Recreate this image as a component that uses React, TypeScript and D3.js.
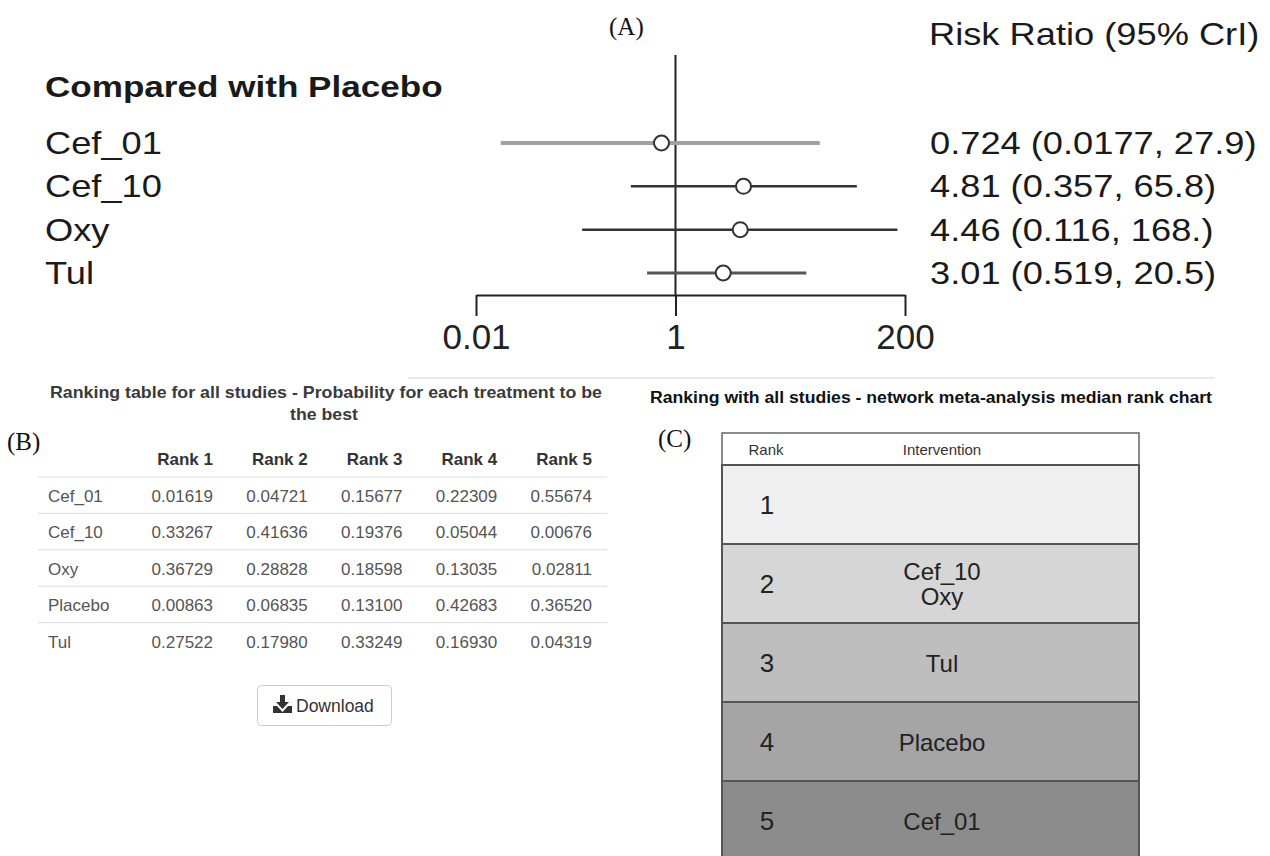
import { useEffect, useRef } from 'react';
import * as d3 from 'd3';

// (A) forest plot, risk ratio vs placebo
const treatments = ['Cef_01', 'Cef_10', 'Oxy', 'Tul'];
const rrMedian = [0.724, 4.81, 4.46, 3.01];
const rrLower = [0.0177, 0.357, 0.116, 0.519];
const rrUpper = [27.9, 65.8, 168, 20.5];
const rrLabels = ['0.724 (0.0177, 27.9)', '4.81 (0.357, 65.8)', '4.46 (0.116, 168.)', '3.01 (0.519, 20.5)'];
const axisTicks = [0.01, 1, 200];

// (B) ranking probability table
const rankHeaders = ['Rank 1', 'Rank 2', 'Rank 3', 'Rank 4', 'Rank 5'];
const tableRows = ['Cef_01', 'Cef_10', 'Oxy', 'Placebo', 'Tul'];
const probCef01 = ['0.01619', '0.04721', '0.15677', '0.22309', '0.55674'];
const probCef10 = ['0.33267', '0.41636', '0.19376', '0.05044', '0.00676'];
const probOxy = ['0.36729', '0.28828', '0.18598', '0.13035', '0.02811'];
const probPlacebo = ['0.00863', '0.06835', '0.13100', '0.42683', '0.36520'];
const probTul = ['0.27522', '0.17980', '0.33249', '0.16930', '0.04319'];

// (C) median rank chart
const medianRanks = ['1', '2', '3', '4', '5'];
const rankInterventions = [[], ['Cef_10', 'Oxy'], ['Tul'], ['Placebo'], ['Cef_01']];

const sans = 'Liberation Sans, Arial, Helvetica, sans-serif';
const serif = 'Liberation Serif, Times New Roman, serif';
const stretch = 1.17; // top panel text is a bit wide

function App() {
  const axisRef = useRef(null);

  const x = d3.scaleLog().domain([0.01, 200]).range([476, 905]);
  const y = d3.scalePoint().domain(treatments).range([143, 273]);

  const col = d3.scalePoint().domain(rankHeaders).range([213, 592]);
  const row = d3.scaleBand().domain(tableRows).range([477, 659]);
  const probs = [probCef01, probCef10, probOxy, probPlacebo, probTul];

  const rankY = d3.scaleBand().domain(medianRanks).range([465, 860]);
  const shade = d3.scaleLinear().domain([0, 4]).range(['#efefef', '#8c8c8c']);

  useEffect(() => {
    const g = d3.select(axisRef.current);
    g.selectAll('*').remove();
    g.call(
      d3.axisBottom(x)
        .tickValues(axisTicks)
        .tickSize(21)
        .tickSizeOuter(0)
        .tickPadding(8)
        .tickFormat(d => String(d))
    );
    g.select('.domain').attr('stroke', '#222').attr('stroke-width', 2);
    g.selectAll('.tick line').attr('stroke', '#222').attr('stroke-width', 2);
    g.selectAll('.tick text')
      .attr('fill', '#222')
      .style('font-size', '35px')
      .style('font-family', sans);
  }, []);

  const ciColor = t => (t === 'Cef_01' ? '#a0a0a0' : t === 'Tul' ? '#555' : '#333');
  const ciWidth = t => (t === 'Cef_01' ? 4 : t === 'Tul' ? 3 : 2.5);

  return (
    <svg width={1270} height={856} style={{ position: 'absolute', left: 0, top: 0, background: '#fff' }}>
      {/* ---------- (A) ---------- */}
      <text x={609} y={35} fontFamily={serif} fontSize={25} fill="#111">(A)</text>
      <text transform={`translate(929,45) scale(${stretch},1)`} fontFamily={sans} fontSize={31} fill="#1a1a1a">
        Risk Ratio (95% CrI)
      </text>
      <text transform={`translate(45,97) scale(${stretch},1)`} fontFamily={sans} fontSize={30} fontWeight="bold" fill="#1a1a1a">
        Compared with Placebo
      </text>

      <line x1={x(1)} x2={x(1)} y1={55} y2={295} stroke="#222" strokeWidth={2} />

      {treatments.map((t, i) => (
        <g key={t}>
          <text transform={`translate(45,${y(t) + 11}) scale(${stretch},1)`} fontFamily={sans} fontSize={31} fill="#1a1a1a">
            {t}
          </text>
          <line x1={x(rrLower[i])} x2={x(rrUpper[i])} y1={y(t)} y2={y(t)} stroke={ciColor(t)} strokeWidth={ciWidth(t)} />
          <circle cx={x(rrMedian[i])} cy={y(t)} r={7.5} fill="#fff" stroke="#333" strokeWidth={2} />
          <text transform={`translate(930,${y(t) + 11}) scale(${stretch},1)`} fontFamily={sans} fontSize={31} fill="#1a1a1a">
            {rrLabels[i]}
          </text>
        </g>
      ))}

      <g ref={axisRef} transform="translate(0,295)" />

      {/* separator */}
      <line x1={408} x2={1215} y1={378} y2={378} stroke="#e2e2e2" strokeWidth={1.5} />

      {/* ---------- (B) ---------- */}
      <text x={50} y={398} textLength={552} lengthAdjust="spacingAndGlyphs" fontFamily={sans} fontSize={16.5} fontWeight="bold" fill="#3a3a3a">
        Ranking table for all studies - Probability for each treatment to be
      </text>
      <text x={290} y={420} textLength={68} lengthAdjust="spacingAndGlyphs" fontFamily={sans} fontSize={16.5} fontWeight="bold" fill="#3a3a3a">
        the best
      </text>
      <text x={7} y={450} fontFamily={serif} fontSize={25} fill="#111">(B)</text>

      {rankHeaders.map(h => (
        <text key={h} x={col(h)} y={465} textAnchor="end" fontFamily={sans} fontSize={17} fontWeight="bold" fill="#333">
          {h}
        </text>
      ))}
      {tableRows.map((r, i) => (
        <g key={r}>
          <line x1={38} x2={607} y1={row(r)} y2={row(r)} stroke="#ddd" strokeWidth={1} />
          <text x={48} y={row(r) + 25} fontFamily={sans} fontSize={17} fill="#555">{r}</text>
          {rankHeaders.map((h, j) => (
            <text key={h} x={col(h)} y={row(r) + 25} textAnchor="end" fontFamily={sans} fontSize={17} fill="#555">
              {probs[i][j]}
            </text>
          ))}
        </g>
      ))}

      {/* download button */}
      <rect x={257.5} y={685.5} width={134} height={40} rx={4} fill="#fff" stroke="#ccc" />
      <g transform="translate(273,695)" fill="#333">
        <rect x={7} y={0} width={5} height={8} />
        <path d="M3,7 L16,7 L9.5,14 Z" />
        <path d="M0,11 L4,11 L9.5,17 L15,11 L19,11 L19,18 L0,18 Z" />
      </g>
      <text x={296} y={712} fontFamily={sans} fontSize={17.5} fill="#333">Download</text>

      {/* ---------- (C) ---------- */}
      <text x={650} y={403} textLength={562} lengthAdjust="spacingAndGlyphs" fontFamily={sans} fontSize={16} fontWeight="bold" fill="#111">
        Ranking with all studies - network meta-analysis median rank chart
      </text>
      <text x={658} y={447} fontFamily={serif} fontSize={25} fill="#111">(C)</text>

      <rect x={722} y={433} width={417} height={32} fill="#fff" stroke="#666" strokeWidth={1.5} />
      <text x={766} y={455} textAnchor="middle" fontFamily={sans} fontSize={15} fill="#333">Rank</text>
      <text x={942} y={455} textAnchor="middle" fontFamily={sans} fontSize={15} fill="#333">Intervention</text>

      {medianRanks.map((k, i) => {
        const top = rankY(k);
        const mid = top + rankY.bandwidth() / 2;
        const names = rankInterventions[i];
        return (
          <g key={k}>
            <rect x={722} y={top} width={417} height={rankY.bandwidth()} fill={shade(i)} stroke="#555" strokeWidth={2} />
            <text x={767} y={mid + 9} textAnchor="middle" fontFamily={sans} fontSize={26} fill="#222">{k}</text>
            {names.map((n, j) => (
              <text key={n} x={942} y={mid + 9 + (j - (names.length - 1) / 2) * 25} textAnchor="middle"
                fontFamily={sans} fontSize={24} fill="#222">
                {n}
              </text>
            ))}
          </g>
        );
      })}
    </svg>
  );
}

export default App;
